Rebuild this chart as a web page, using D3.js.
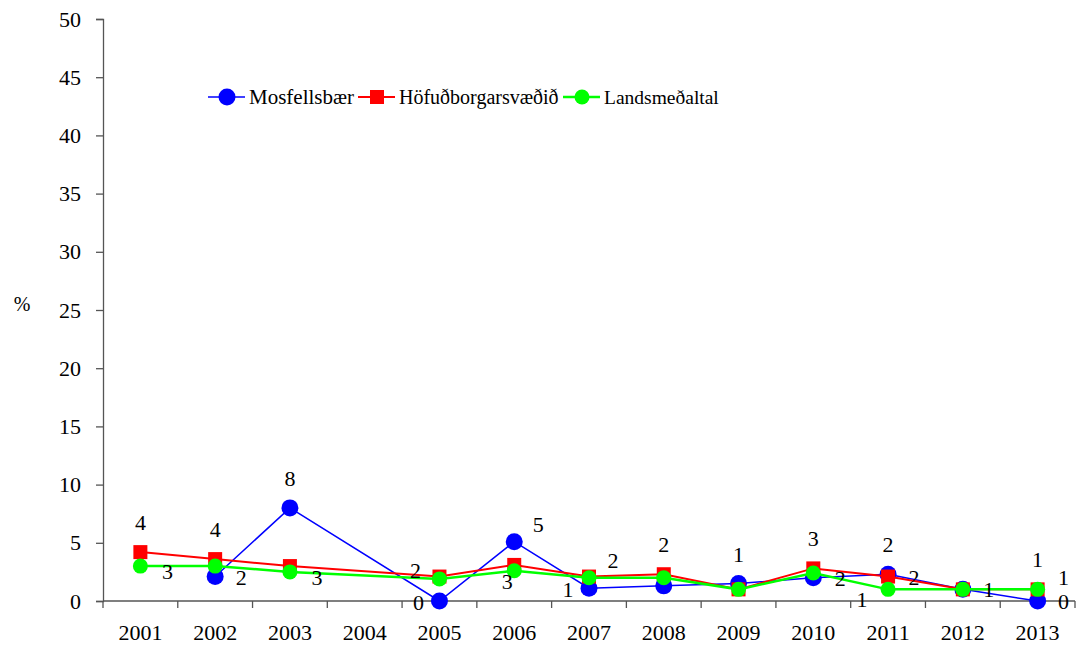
<!DOCTYPE html>
<html>
<head>
<meta charset="utf-8">
<script src="https://cdn.jsdelivr.net/npm/d3@7"></script>
<style>
  body { margin: 0; background: #fff; }
</style>
</head>
<body>
<svg id="chart" width="1083" height="650"></svg>
<script>

const years = ["2001", "2002", "2003", "2004", "2005", "2006", "2007",
	"2008", "2009", "2010", "2011", "2012", "2013"];

const yTicks = [0, 5, 10, 15, 20, 25, 30, 35, 40, 45, 50];

const mosfellsbaer = [null, 2.1, 8.0, null, 0, 5.1, 1.1, 1.3, 1.5, 2.0, 2.3, 1.0, 0];
const hofudborg = [4.2, 3.6, 3.0, null, 2.1, 3.1, 2.1, 2.3, 1.0, 2.8, 2.1, 1.0, 1.0];
const landsmedaltal = [3.0, 3.0, 2.5, null, 1.9, 2.6, 2.0, 2.0, 1.0, 2.4, 1.0, 1.0, 1.0];

const seriesNames = ["Mosfellsbær", "Höfuðborgarsvæðið", "Landsmeðaltal"];

// data labels: [series index, year, text, placement]
const dataLabels = [
	[1, "2001", "4", "t"], [2, "2001", "3", "br"],
	[1, "2002", "4", "t"], [0, "2002", "2", "r"],
	[0, "2003", "8", "t"], [2, "2003", "3", "br"],
	[1, "2005", "2", "tl"], [0, "2005", "0", "l"],
	[0, "2006", "5", "tr"], [2, "2006", "3", "b"],
	[0, "2007", "1", "l"], [2, "2007", "2", "tr"],
	[1, "2008", "2", "t"],
	[0, "2009", "1", "t"],
	[1, "2010", "3", "t"], [2, "2010", "2", "br"],
	[0, "2011", "2", "t"], [1, "2011", "2", "r"], [2, "2011", "1", "bl"],
	[2, "2012", "1", "r"],
	[1, "2013", "1", "t"], [2, "2013", "1", "rh"], [0, "2013", "0", "r"]
];

const FONT = 'serif, "Liberation Serif", "DejaVu Serif", "Times New Roman", Times';

const svg = d3.select("#chart").style("font-family", FONT);
const margin = {left: 103, right: 8, top: 19, bottom: 49};
const W = 1083, H = 650;

const x = d3.scaleBand().domain(years).range([margin.left, W - margin.right]);
const y = d3.scaleLinear().domain([0, 50]).range([H - margin.bottom, margin.top]);

const styles = [
	{color: "#0000ff", width: 1.5, shape: "circle", size: 8.5},
	{color: "#ff0000", width: 2, shape: "square", size: 7},
	{color: "#00ff00", width: 2.5, shape: "circle", size: 7.5}
];

// Axes
const yAxis = d3.axisLeft(y).tickValues(yTicks).tickSize(7).tickPadding(15);
const gy = svg.append("g")
	.attr("transform", "translate(" + margin.left + ",0)")
	.call(yAxis);
gy.attr("font-family", null).attr("font-size", null);
gy.select(".domain").attr("stroke", "#555").attr("stroke-width", 1.3);
gy.selectAll(".tick line").attr("stroke", "#555").attr("stroke-width", 1.3);
gy.selectAll(".tick text")
	.style("font-family", FONT)
	.style("font-size", "22px")
	.attr("fill", "#000");

const gx = svg.append("g")
	.attr("transform", "translate(0," + y(0) + ")");
gx.append("line")
	.attr("x1", margin.left).attr("x2", W - margin.right)
	.attr("stroke", "#555").attr("stroke-width", 1.3);
// ticks at category boundaries
const boundaries = years.map(d => x(d)).concat([x(years[years.length - 1]) + x.bandwidth()]);
gx.selectAll("line.tk").data(boundaries).enter().append("line")
	.attr("class", "tk")
	.attr("x1", d => d).attr("x2", d => d)
	.attr("y1", 0).attr("y2", 7)
	.attr("stroke", "#555").attr("stroke-width", 1.3);
gx.selectAll("text").data(years).enter().append("text")
	.attr("x", d => x(d) + x.bandwidth() / 2)
	.attr("y", 39)
	.attr("text-anchor", "middle")
	.style("font-family", FONT)
	.style("font-size", "22px")
	.text(d => d);

svg.append("text")
	.attr("x", 22).attr("y", 311)
	.attr("text-anchor", "middle")
	.style("font-family", FONT)
	.style("font-size", "20px")
	.text("%");

// Series
const allSeries = [mosfellsbaer, hofudborg, landsmedaltal];
const cx = i => x(years[i]) + x.bandwidth() / 2;

function drawMarker(g, s, px, py) {
	if (s.shape === "circle") {
		g.append("circle").attr("cx", px).attr("cy", py).attr("r", s.size).attr("fill", s.color);
	} else {
		g.append("rect").attr("x", px - s.size).attr("y", py - s.size)
			.attr("width", 2 * s.size).attr("height", 2 * s.size).attr("fill", s.color);
	}
}

allSeries.forEach((vals, k) => {
	const s = styles[k];
	const pts = vals.map((v, i) => [i, v]).filter(d => d[1] !== null);
	const line = d3.line().x(d => cx(d[0])).y(d => y(d[1]));
	const g = svg.append("g");
	g.append("path")
		.attr("d", line(pts))
		.attr("fill", "none")
		.attr("stroke", s.color)
		.attr("stroke-width", s.width);
	pts.forEach(d => drawMarker(g, s, cx(d[0]), y(d[1])));
});

// Data labels
const offsets = {
	t: [0, -22], r: [26, 8], rh: [26, -4], br: [27, 13], l: [-21, 9], tl: [-24, 1],
	tr: [24, -10], b: [-7, 18], bl: [-26, 18]
};
svg.append("g").selectAll("text").data(dataLabels).enter().append("text")
	.attr("x", d => cx(years.indexOf(d[1])) + offsets[d[3]][0])
	.attr("y", d => y(allSeries[d[0]][years.indexOf(d[1])]) + offsets[d[3]][1])
	.attr("text-anchor", "middle")
	.style("font-family", FONT)
	.style("font-size", "22px")
	.text(d => d[2]);

// Legend
const legendX = [208, 358, 563];
const legendEnd = [354, 559, 720];
const legend = svg.append("g");
seriesNames.forEach((name, k) => {
	const s = styles[k];
	const lx = legendX[k];
	legend.append("line")
		.attr("x1", lx).attr("x2", lx + 37)
		.attr("y1", 97).attr("y2", 97)
		.attr("stroke", s.color).attr("stroke-width", s.width);
	drawMarker(legend, s, lx + 19, 97);
	const t = legend.append("text")
		.attr("x", lx + 41).attr("y", 104)
		.style("font-family", FONT)
		.style("font-size", "21px")
		.text(name);
	// shrink if the text would run into the next entry
	const room = legendEnd[k] - (lx + 41);
	let fs = 21;
	while (t.node().getComputedTextLength() > room && fs > 12) {
		fs -= 0.5;
		t.style("font-size", fs + "px");
	}
});

</script>
</body>
</html>
